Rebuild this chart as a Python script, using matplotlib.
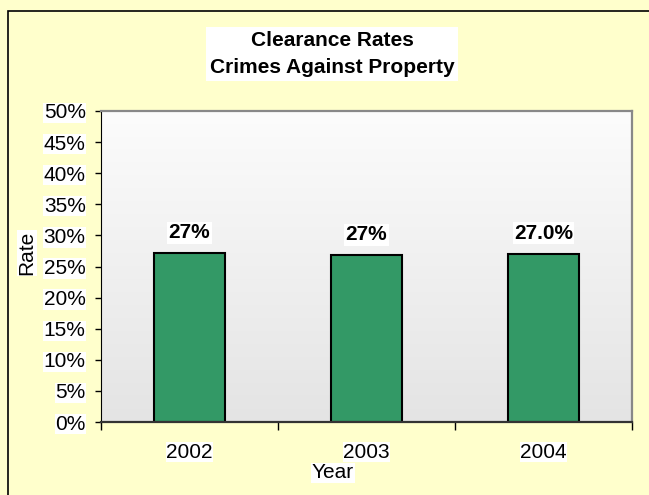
import numpy as np
import matplotlib.pyplot as plt
from matplotlib.colors import LinearSegmentedColormap
from matplotlib.patches import Rectangle
from matplotlib.ticker import FixedLocator, PercentFormatter

years = ["2002", "2003", "2004"]
rates = [0.271, 0.268, 0.270]
rate_labels = ["27%", "27%", "27.0%"]
title_lines = ["Clearance Rates", "Crimes Against Property"]

plt.rcParams['font.family'] = ['Liberation Sans', 'DejaVu Sans']

fig = plt.figure(figsize=(6.49, 4.95), dpi=100)
fig.patch.set_facecolor('#FFFFCC')

# outer chart frame (runs off the right and bottom edge)
fig.patches.append(Rectangle((8/649, -0.1), 2, 1 - 11/495 + 0.1, transform=fig.transFigure,
                             fill=False, edgecolor='black', linewidth=1.2))

ax = fig.add_axes([101/649, 73/495, 531/649, 311/495])
x = np.arange(len(years))

# gradient background of the plot area
grad = np.linspace(0, 1, 256).reshape(-1, 1)
cmap = LinearSegmentedColormap.from_list('g', ['#E4E4E4', '#FCFCFC'])
ax.imshow(grad, cmap=cmap, aspect='auto', extent=[-0.5, 2.5, 0, 0.5], origin='lower', zorder=0)

bars = ax.bar(x, rates, width=0.4, color='#339966', edgecolor='black', linewidth=1.5, zorder=2)
lbls = ax.bar_label(bars, labels=rate_labels, padding=8, fontsize=15, fontweight='bold')
for t in lbls:
    t.set_bbox(dict(facecolor='white', edgecolor='none', pad=1))

ax.set_xlim(-0.5, 2.5)
ax.set_ylim(0, 0.5)
ax.set_yticks(np.arange(0, 0.51, 0.05))
ax.yaxis.set_major_formatter(PercentFormatter(1.0, decimals=0))
ax.tick_params(axis='y', length=4, width=1, pad=7, labelsize=15)

ax.xaxis.set_major_locator(FixedLocator([-0.5, 0.5, 1.5, 2.5]))
ax.set_xticklabels([])
ax.set_xticks(x, minor=True)
ax.set_xticklabels(years, minor=True)
ax.tick_params(axis='x', which='major', length=6, width=1, direction='out')
ax.tick_params(axis='x', which='minor', length=0, pad=15, labelsize=15)

for t in ax.get_yticklabels() + ax.get_xticklabels(minor=True):
    t.set_bbox(dict(facecolor='white', edgecolor='none', pad=0.5))

for s in ['top', 'right']:
    ax.spines[s].set_color('#888888')
    ax.spines[s].set_linewidth(1.6)
ax.spines['left'].set_color('black')
ax.spines['bottom'].set_color('#333333')
ax.spines['bottom'].set_linewidth(1.6)

fig.text(332/649, 1 - 54/495, "\n".join(title_lines), ha='center', va='center',
         fontsize=15, fontweight='bold', linespacing=1.55,
         bbox=dict(facecolor='white', edgecolor='none', pad=3))
fig.text(27/649, 1 - 253/495, "Rate", rotation=90, ha='center', va='center', fontsize=15,
         bbox=dict(facecolor='white', edgecolor='none', pad=0.5))
fig.text(333/649, 1 - 473/495, "Year", ha='center', va='center', fontsize=15,
         bbox=dict(facecolor='white', edgecolor='none', pad=0.5))

plt.savefig("out.png", dpi=100, facecolor=fig.get_facecolor())
